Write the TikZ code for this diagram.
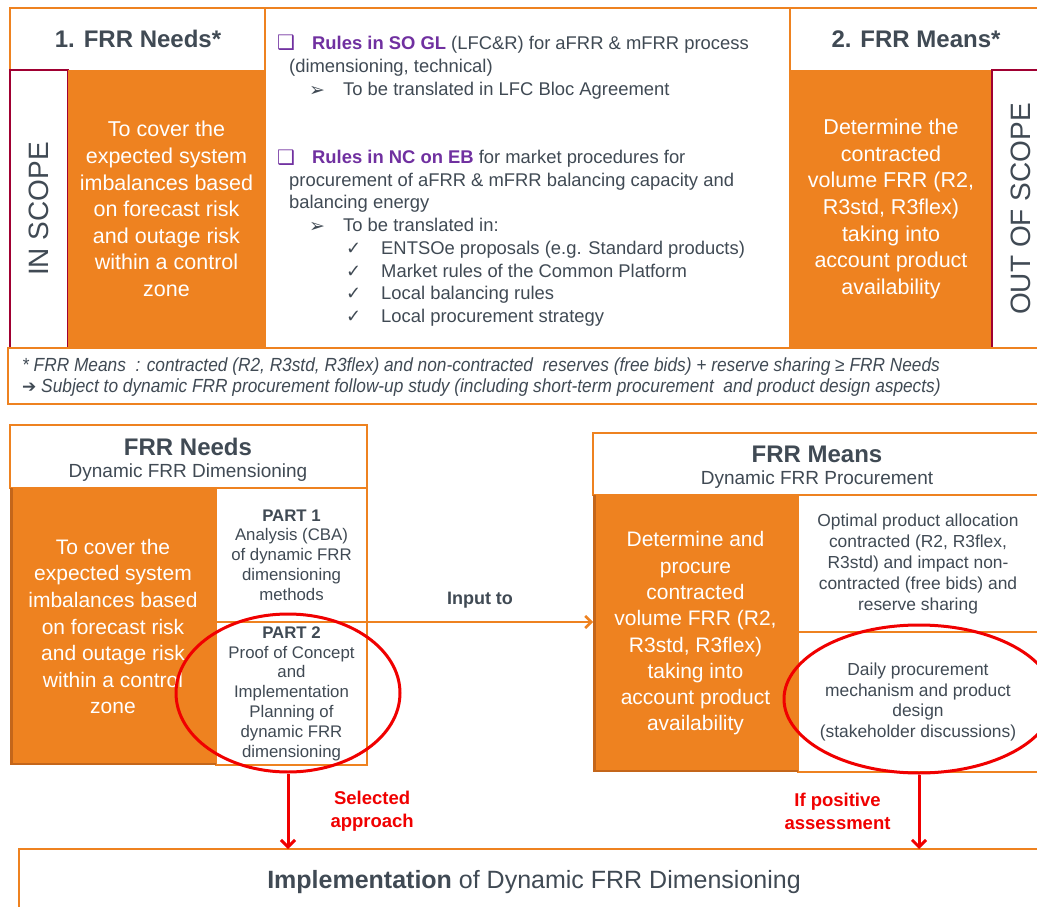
\documentclass[tikz,border=0pt]{standalone}
\usepackage{fontspec}
\setmainfont{Liberation Sans}
\newfontfamily\symfont{DejaVu Sans}
\newfontfamily\notefont[FakeStretch=0.91]{Liberation Sans}
\usetikzlibrary{shapes.geometric,arrows.meta}
\definecolor{frrorange}{RGB}{238,130,32}
\definecolor{frrshade}{RGB}{196,102,26}
\definecolor{scopered}{RGB}{160,0,50}
\definecolor{txtgray}{RGB}{64,74,84}
\definecolor{rulepurple}{RGB}{112,48,160}
\definecolor{markred}{RGB}{240,0,0}

\tikzset{
  box/.style={anchor=north west,inner sep=0pt,outer sep=0pt,align=center},
  corebox/.style={box,fill=frrorange,text=white,font=\fontsize{21.5}{26.6}\selectfont},
  partbox/.style={box,fill=white,draw=frrorange,line width=2pt,text=txtgray,font=\fontsize{16.8}{19.8}\selectfont},
  headbox/.style={box,fill=white,draw=frrorange,line width=2pt},
  scopebox/.style={box,fill=white,draw=scopered,line width=2pt},
  scopetext/.style={rotate=90,inner sep=0pt,text=txtgray,font=\fontsize{28}{30}\selectfont},
  headtext/.style={inner sep=0pt,text=txtgray,font=\bfseries\fontsize{24}{28}\selectfont},
  subtext/.style={inner sep=0pt,text=txtgray,font=\fontsize{19}{22}\selectfont},
  ruleline/.style={anchor=base west,inner sep=0pt,text=txtgray,font=\fontsize{18.4}{22}\selectfont},
  noteline/.style={anchor=base west,inner sep=0pt,text=txtgray,font=\notefont\itshape\fontsize{19}{21}\selectfont},
  ring/.style={ellipse,draw=markred,line width=3pt,inner sep=0pt},
  go/.style={markred,line width=3pt,-{Straight Barb[length=7pt,width=14pt,line width=3pt]}},
  golabel/.style={text=markred,font=\bfseries\fontsize{18.5}{23}\selectfont,align=center,inner sep=0pt},
  feed/.style={frrorange,line width=2.5pt,-{Straight Barb[length=6pt,width=12pt,line width=2.5pt]}},
}

\begin{document}
\begin{tikzpicture}[x=1pt,y=-1pt]
  \useasboundingbox (0,0) rectangle (1037,907);

  % top band: needs, rules, means
  \node[headbox,line width=2.5pt,minimum width=1040pt,minimum height=340pt] (topframe) at (10,8) {};
  \node[headtext] (needshead) at (138,39) {1. FRR Needs*};
  \node[headbox,minimum width=525pt,minimum height=340pt] (rules) at (265,8) {};
  \node[headtext] (meanshead) at (916,39) {2. FRR Means*};
  \node[scopebox,minimum width=58pt,minimum height=278pt] (inscope) at (10,70) {};
  \node[scopetext] (inscopetext) at (inscope.center) {IN SCOPE};
  \node[corebox,minimum width=197pt,minimum height=278pt] (needsgoal) at (68,70)
    {To cover the\\expected system\\imbalances based\\on forecast risk\\and outage risk\\within a control\\zone};
  \node[corebox,minimum width=202pt,minimum height=278pt] (meansgoal) at (790,70)
    {Determine the\\contracted\\volume FRR (R2,\\R3std, R3flex)\\taking into\\account product\\availability};
  \node[scopebox,minimum width=60pt,minimum height=278pt] (outscope) at (992,70) {};
  \node[scopetext] (outscopetext) at (1021,209) {OUT OF SCOPE};

  % rules text
  \node[ruleline,text=rulepurple] (sq1) at (277,50) {\symfont\fontsize{20}{20}\selectfont ❑};
  \node[ruleline] (sogl) at (312,49.5) {\textcolor{rulepurple}{\bfseries Rules in SO GL} (LFC\&R) for aFRR \& mFRR process};
  \node[ruleline] (sogl2) at (289,72.5) {(dimensioning, technical)};
  \node[ruleline] (tip1) at (309,96) {\symfont\fontsize{19}{19}\selectfont ➢};
  \node[ruleline] (lfcbloc) at (343,95.5) {To be translated in LFC Bloc Agreement};
  \node[ruleline,text=rulepurple] (sq2) at (277,164) {\symfont\fontsize{20}{20}\selectfont ❑};
  \node[ruleline] (nceb) at (312,163.5) {\textcolor{rulepurple}{\bfseries Rules in NC on EB} for market procedures for};
  \node[ruleline] (nceb2) at (289,186.5) {procurement of aFRR \& mFRR balancing capacity and};
  \node[ruleline] (nceb3) at (289,208.5) {balancing energy};
  \node[ruleline] (tip2) at (309,232) {\symfont\fontsize{19}{19}\selectfont ➢};
  \node[ruleline] (transl) at (343,231.5) {To be translated in:};
  \foreach \txt [count=\i] in {ENTSOe proposals (e.g. Standard products),
      Market rules of the Common Platform, Local balancing rules, Local procurement strategy} {
    \pgfmathsetmacro{\yb}{254.5+(\i-1)*22.7}
    \node[ruleline] (chk\i) at (346,\yb) {\symfont\fontsize{18}{18}\selectfont ✓};
    \node[ruleline] (item\i) at (381,\yb) {\txt};
  }

  % footnote
  \node[headbox,line width=2.5pt,minimum width=1040pt,minimum height=56pt] (notes) at (8,348) {};
  \node[noteline] (note1) at (22,371) {* FRR Means\ \ : contracted (R2, R3std, R3flex) and non-contracted\ \ reserves (free bids) + reserve sharing ≥ FRR Needs};
  \node[noteline] (note2) at (22,392) {{\symfont\upshape\fontsize{17}{17}\selectfont ➔} Subject to dynamic FRR procurement follow-up study (including short-term procurement\ \ and product design aspects)};

  % FRR needs
  \node[headbox,minimum width=357pt,minimum height=63pt] (needsbox) at (10,425) {};
  \node[headtext] (needstitle) at (188,447) {FRR Needs};
  \node[subtext] (needssub) at (188,473) {Dynamic FRR Dimensioning};
  \node[corebox,font=\fontsize{21}{26.6}\selectfont,minimum width=206pt,minimum height=277pt] (needscore) at (10,488)
    {To cover the\\expected system\\imbalances based\\on forecast risk\\and outage risk\\within a control\\zone};
  \node[partbox,minimum width=151pt,minimum height=134pt] (part1) at (216,488)
    {\textbf{PART 1}\\Analysis (CBA)\\of dynamic FRR\\dimensioning\\methods};
  \node[partbox,minimum width=151pt,minimum height=143pt] (part2) at (216,622)
    {\textbf{PART 2}\\Proof of Concept\\and\\Implementation\\Planning of\\dynamic FRR\\dimensioning};

  % FRR means
  \node[headbox,minimum width=452pt,minimum height=62pt] (meansbox) at (593,433) {};
  \node[headtext] (meanstitle) at (817,454) {FRR Means};
  \node[subtext] (meanssub) at (817,480) {Dynamic FRR Procurement};
  \node[corebox,font=\fontsize{21}{26.3}\selectfont,minimum width=205pt,minimum height=277pt] (meanscore) at (593,495)
    {Determine and\\procure\\contracted\\volume FRR (R2,\\R3std, R3flex)\\taking into\\account product\\availability};
  \node[partbox,font=\fontsize{17.4}{21}\selectfont,minimum width=240pt,minimum height=137pt] (alloc) at (798,495)
    {Optimal product allocation\\contracted (R2, R3flex,\\R3std) and impact non-\\contracted (free bids) and\\reserve sharing};
  \node[partbox,font=\fontsize{17.4}{20.7}\selectfont,minimum width=240pt,minimum height=140pt] (daily) at (798,632)
    {Daily procurement\\mechanism and product\\design\\(stakeholder discussions)};

  \foreach \blk in {needscore,meanscore}
    \draw[frrshade,line width=2.5pt] ([xshift=1.25pt]\blk.north west) |- ([yshift=1.25pt]\blk.south east);

  % implementation
  \node[headbox,minimum width=1030pt,minimum height=80pt] (impl) at (19,849) {};
  \node[headtext,font=\fontsize{25}{28}\selectfont] (impllabel) at (534,882) {\textbf{Implementation} of Dynamic FRR Dimensioning};

  % highlights and links
  \node[ring,minimum width=224pt,minimum height=158pt] (selring) at (288,693) {};
  \node[ring,minimum width=270pt,minimum height=148pt] (dailyring) at (919,699) {};

  \draw[feed] (part1.south east) -- (part1.south east -| meanscore.west)
    node[midway,above=13pt,inner sep=0pt,text=txtgray,font=\bfseries\fontsize{18}{22}\selectfont] (inputto) {Input to};
  \draw[go] (selring.south) -- (selring.south |- impl.north)
    node[golabel,midway,right=41pt] (selected) {Selected\\approach};
  \draw[go] (dailyring.south) -- (dailyring.south |- impl.north)
    node[golabel,midway,left=27pt] (positive) {If positive\\assessment};
\end{tikzpicture}
\end{document}
